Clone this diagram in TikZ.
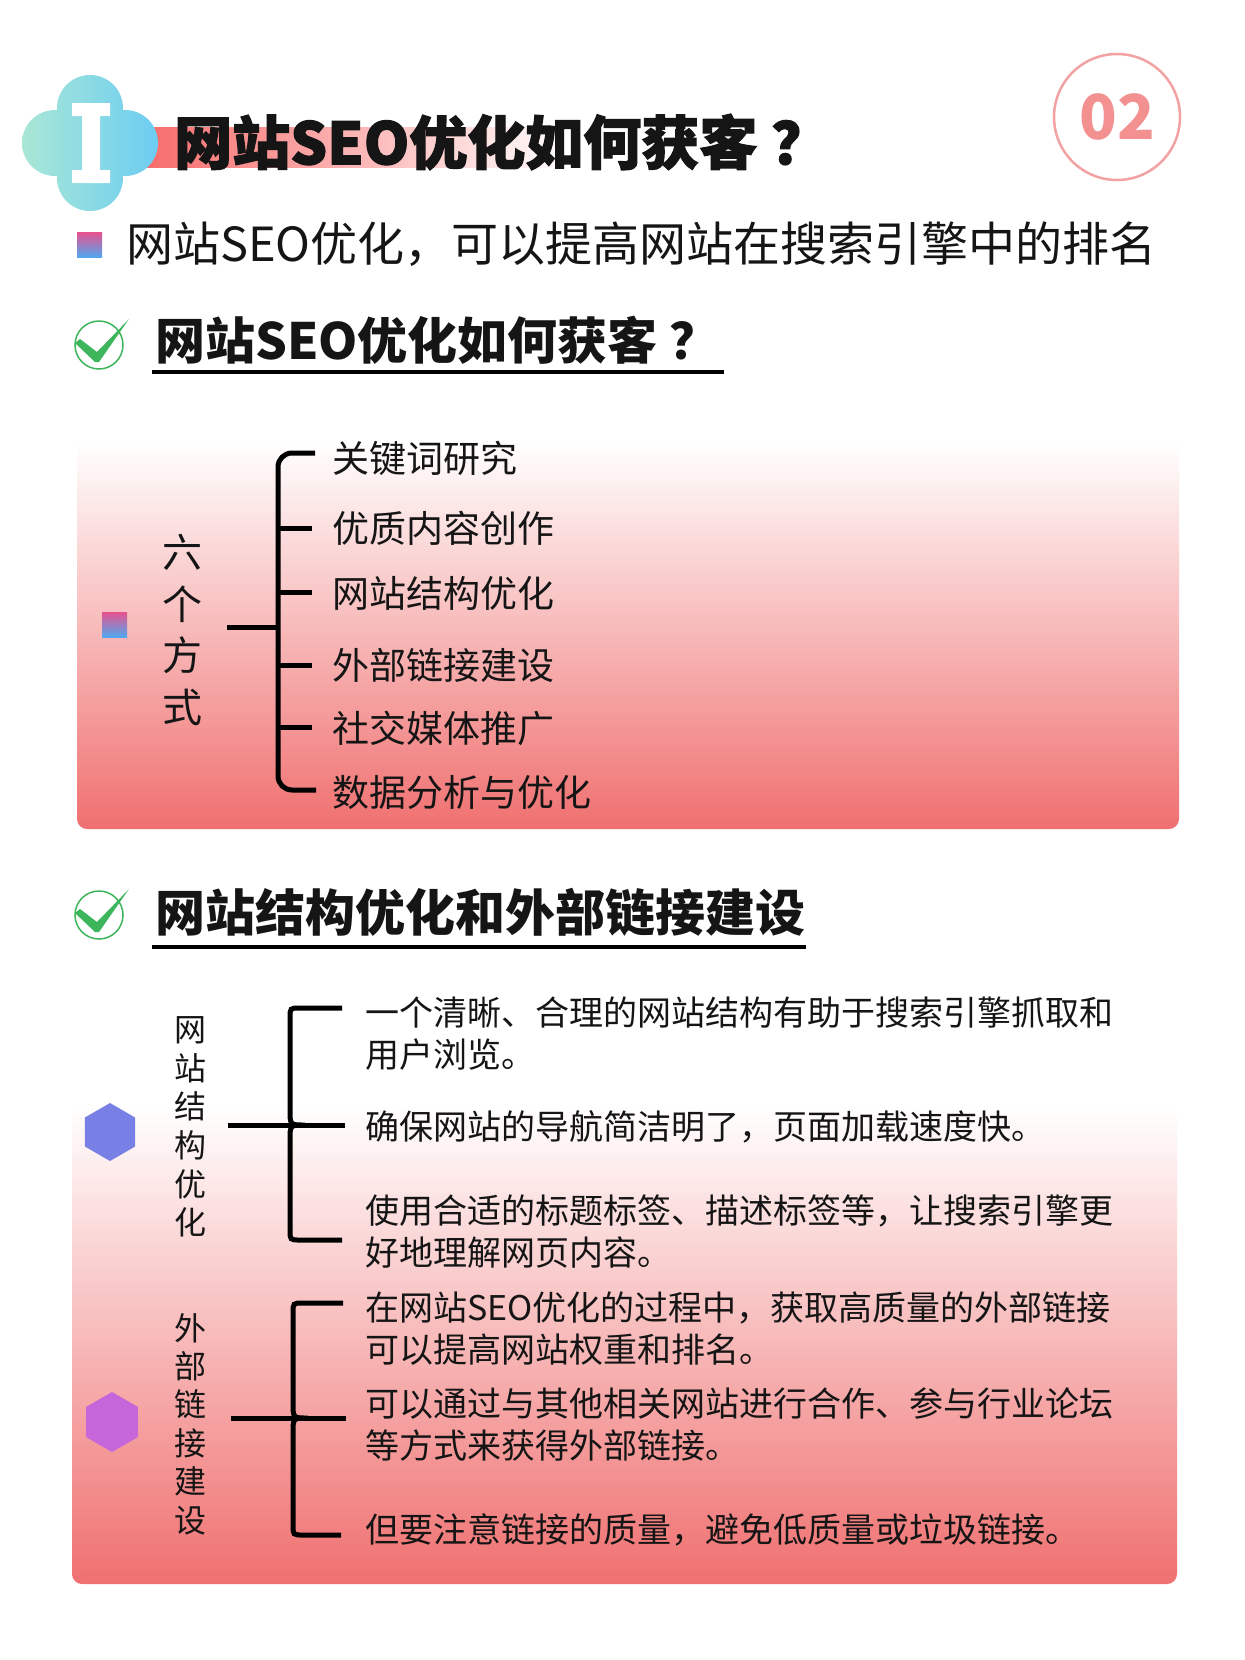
\documentclass[tikz,border=0pt]{standalone}
\usepackage{fontspec}
\setmainfont{Noto Sans CJK SC}
\newfontfamily\heavy{Noto Sans CJK SC}[BoldFeatures={FakeBold=2}]
\usetikzlibrary{shapes.geometric}
\definecolor{barred}{HTML}{F86B6B}
\definecolor{cloudL}{HTML}{A9E7D6}
\definecolor{cloudR}{HTML}{6CCDF2}
\definecolor{circ}{HTML}{F2A2A2}
\definecolor{numc}{HTML}{F39090}
\definecolor{bulA}{HTML}{E8508E}
\definecolor{bulB}{HTML}{B472DC}
\definecolor{bulC}{HTML}{52A8F0}
\definecolor{boxred}{HTML}{F07070}
\definecolor{hexA}{HTML}{7880E6}
\definecolor{hexB}{HTML}{C566DA}
\definecolor{chk}{HTML}{3DB55B}
\definecolor{ink}{HTML}{151515}
\begin{document}
\begin{tikzpicture}[x=1pt,y=-1pt,
  txt/.style={anchor=west,inner sep=0pt,text=ink},
  item/.style={txt,font=\fontsize{37}{42}\selectfont},
  litem/.style={txt,align=left,font=\fontsize{34}{42}\selectfont},
  head/.style={txt,font=\bfseries\fontsize{50}{54}\selectfont},
  brk/.style={line width=5pt,draw=black},
  stemline/.style={line width=5pt,draw=black},
  hexa/.style={regular polygon,regular polygon sides=6,shape border rotate=30,minimum size=58pt,inner sep=0pt},
  vtext/.style={align=center,inner sep=0pt,text=ink}]
\useasboundingbox (0,0) rectangle (1245,1660);
\fill[white] (0,0) rectangle (1245,1660);

% title bar
\shade[left color=barred,right color=white] (140,127) rectangle (570,167);
% cloud icon
\shade[left color=cloudL,right color=cloudR] (55,143) circle[radius=33] (125,143) circle[radius=33]
  (90,108) circle[radius=33] (90,178) circle[radius=33] (90,143) circle[radius=36];
\fill[white] (72,103) -- (110,103) -- (110,116) -- (100,116) -- (100,170) -- (110,170) -- (110,183)
  -- (72,183) -- (72,170) -- (82,170) -- (82,116) -- (72,116) -- cycle;
\node[txt,font=\heavy\bfseries\fontsize{58}{62}\selectfont] (title) at (174,142) {网站SEO优化如何获客\hspace{14pt}？};

% number badge
\node[circle,draw=circ,line width=2.5pt,minimum size=126pt,inner sep=0pt,text=numc,
  font=\bfseries\fontsize{62}{62}\selectfont] (num) at (1117,117) {02};

% subtitle
\shade[top color=bulA,middle color=bulB,bottom color=bulC] (77,232) rectangle (102,257);
\node[txt,font=\fontsize{47}{50}\selectfont] (sub) at (126,244) {网站SEO优化，可以提高网站在搜索引擎中的排名};

% heading 2
\draw[chk,line width=1.5pt] (99,345) circle[radius=24];
\fill[chk] (75,343) -- (80,339) -- (97,352) -- (129,319) -- (99,362) -- (95,362) -- cycle;
\node[head] (h2) at (155,340) {网站SEO优化如何获客\hspace{12pt}？};
\draw[line width=4.5pt] (152,372) -- (724,372);

% box 1
\shade[top color=white,bottom color=boxred,rounded corners=10pt] (77,441) rectangle (1179,829);
\shade[top color=bulA,middle color=bulB,bottom color=bulC] (102,612) rectangle (127,637);
\node[vtext,font=\fontsize{40}{51.7}\selectfont] (six) at (182,630) {六\\个\\方\\式};
\coordinate (s1a) at (227,627);
\coordinate (s1b) at (278,627);
\draw[stemline] (s1a) -- (s1b);
\draw[brk,rounded corners=14pt] (315,453) -- (278,453) -- (278,790) -- (316,790);
\foreach \yy in {528,592,665,727} \draw[brk] (278,\yy) -- (312,\yy);
\node[item] (i1) at (332,458) {关键词研究};
\node[item] (i2) at (332,528) {优质内容创作};
\node[item] (i3) at (332,593) {网站结构优化};
\node[item] (i4) at (332,665) {外部链接建设};
\node[item] (i5) at (332,728) {社交媒体推广};
\node[item] (i6) at (332,792) {数据分析与优化};

% heading 3
\draw[chk,line width=1.5pt] (99,915) circle[radius=24];
\fill[chk] (75,913) -- (80,909) -- (97,922) -- (129,889) -- (99,932) -- (95,932) -- cycle;
\node[head] (h3) at (155,912) {网站结构优化和外部链接建设};
\draw[line width=4.5pt] (152,947) -- (806,947);

% box 2
\shade[top color=white,bottom color=boxred,rounded corners=10pt] (72,1105) rectangle (1177,1584);

% part a
\node[hexa,fill=hexA] (hx1) at (110,1132) {};
\node[vtext,font=\fontsize{32}{38.6}\selectfont] (va) at (190,1127) {网\\站\\结\\构\\优\\化};
\coordinate (sa1) at (228,1125);
\coordinate (sa2) at (345,1125);
\draw[stemline] (sa1) -- (sa2);
\draw[brk] (342,1008) -- (300,1008) .. controls (290,1008) .. (290,1018) -- (290,1110)
  .. controls (290,1125) .. (305,1125) .. controls (290,1125) .. (290,1140) -- (290,1230)
  .. controls (290,1240) .. (300,1240) -- (342,1240);
\node[litem] (a1) at (365,1034) {一个清晰、合理的网站结构有助于搜索引擎抓取和\\用户浏览。};
\node[litem] (a2) at (365,1127) {确保网站的导航简洁明了，页面加载速度快。};
\node[litem] (a3) at (365,1232) {使用合适的标题标签、描述标签等，让搜索引擎更\\好地理解网页内容。};

% part b
\node[hexa,fill=hexB,minimum size=60pt] (hx2) at (112,1422) {};
\node[vtext,font=\fontsize{32}{38.4}\selectfont] (vb) at (190,1424) {外\\部\\链\\接\\建\\设};
\coordinate (sb1) at (231,1418);
\coordinate (sb2) at (346,1418);
\draw[stemline] (sb1) -- (sb2);
\draw[brk] (343,1303) -- (303,1303) .. controls (293,1303) .. (293,1313) -- (293,1403)
  .. controls (293,1418) .. (308,1418) .. controls (293,1418) .. (293,1433) -- (293,1525)
  .. controls (293,1535) .. (303,1535) -- (341,1535);
\node[litem] (b1) at (365,1329) {在网站SEO优化的过程中，获取高质量的外部链接\\可以提高网站权重和排名。};
\node[litem] (b2) at (365,1425) {可以通过与其他相关网站进行合作、参与行业论坛\\等方式来获得外部链接。};
\node[litem] (b3) at (365,1530) {但要注意链接的质量，避免低质量或垃圾链接。};
\end{tikzpicture}
\end{document}
